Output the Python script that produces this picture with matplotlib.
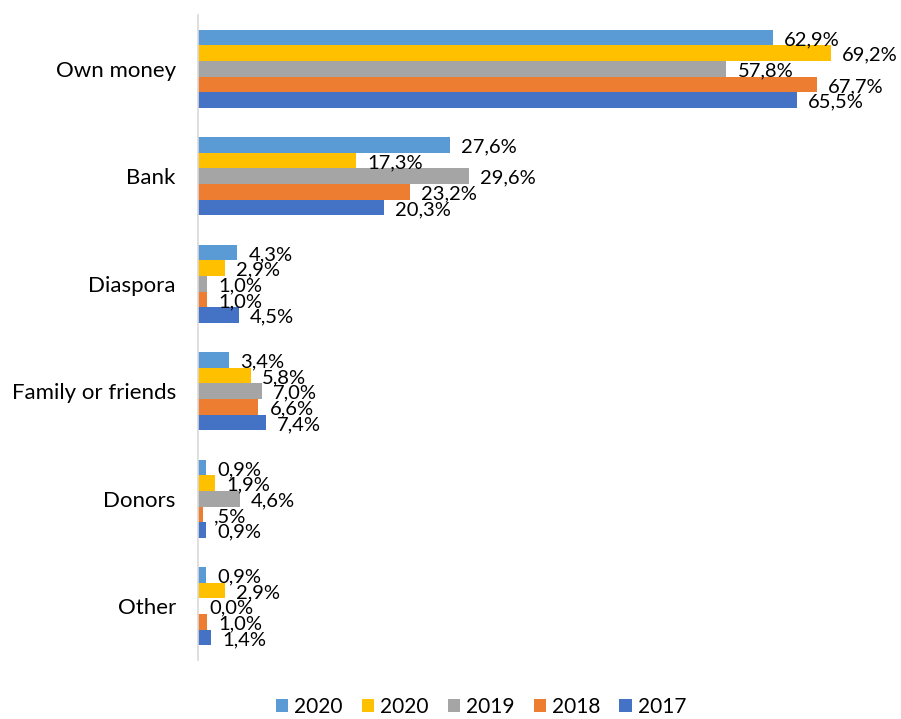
import numpy as np
import matplotlib.pyplot as plt
from matplotlib.patches import Patch

plt.rcParams['font.family'] = ['Lato', 'DejaVu Sans']

categories = ['Own money', 'Bank', 'Diaspora', 'Family or friends', 'Donors', 'Other']
series_names = ['2020', '2020', '2019', '2018', '2017']
values = [
    [62.9, 27.6, 4.3, 3.4, 0.9, 0.9],   # 2020 (light blue)
    [69.2, 17.3, 2.9, 5.8, 1.9, 2.9],   # 2020 (gold)
    [57.8, 29.6, 1.0, 7.0, 4.6, 0.0],   # 2019
    [67.7, 23.2, 1.0, 6.6, 0.5, 1.0],   # 2018
    [65.5, 20.3, 4.5, 7.4, 0.9, 1.4],   # 2017
]
labels = [
    ['62,9%', '27,6%', '4,3%', '3,4%', '0,9%', '0,9%'],
    ['69,2%', '17,3%', '2,9%', '5,8%', '1,9%', '2,9%'],
    ['57,8%', '29,6%', '1,0%', '7,0%', '4,6%', '0,0%'],
    ['67,7%', '23,2%', '1,0%', '6,6%', ',5%', '1,0%'],
    ['65,5%', '20,3%', '4,5%', '7,4%', '0,9%', '1,4%'],
]
colors = ['#5B9BD5', '#FFC000', '#A5A5A5', '#ED7D31', '#4472C4']

fig = plt.figure(figsize=(9.01, 7.19), dpi=100)
ax = fig.add_axes([198/901, 59/719, 640/901, 645/719])

n = len(series_names)
bh = 0.145
y = np.arange(len(categories))
for i in range(n):
    off = (i - (n - 1) / 2) * bh
    ax.barh(y + off, values[i], height=bh, color=colors[i])
    for j, v in enumerate(values[i]):
        ax.annotate(labels[i][j], (v, y[j] + off), xytext=(8, -1.5),
                    textcoords='offset points', ha='left', va='center',
                    fontsize=14.5, color='#000000', annotation_clip=False)

ax.set_ylim(len(categories) - 0.5, -0.5)
ax.set_xlim(0, 70)
ax.set_yticks(y)
ax.set_yticklabels(categories, fontsize=16)
ax.tick_params(axis='y', length=0, pad=16)
ax.set_xticks([])
for s in ['top', 'right', 'bottom']:
    ax.spines[s].set_visible(False)
ax.spines['left'].set_color('#D9D9D9')
ax.spines['left'].set_linewidth(1.2)

handles = [Patch(facecolor=c, label=l) for c, l in zip(colors, series_names)]
fig.legend(handles=handles, loc='lower center', ncol=5, frameon=False,
           fontsize=15, bbox_to_anchor=(0.534, 0.0), borderaxespad=0,
           borderpad=0.1, handlelength=0.6, handleheight=0.6,
           handletextpad=0.3, columnspacing=0.9)

fig.savefig('out.png', dpi=100)
